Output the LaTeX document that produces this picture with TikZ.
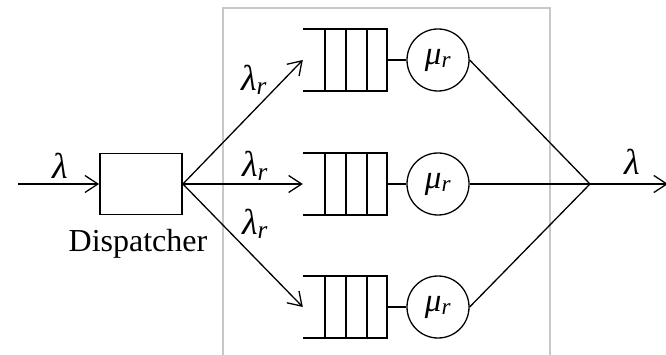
\documentclass[tikz,border=0pt]{standalone}
\usepackage{fontspec}
\setmainfont{Liberation Serif}
\newfontfamily\tnr{Liberation Serif}
\usetikzlibrary{arrows.meta,calc}
\tikzset{
  line/.style={line width=1.3pt, draw=black},
  arr/.style={line, -{Straight Barb[length=13pt,width=17pt,line width=1.3pt]}},
  lab/.style={font=\tnr\fontsize{36}{42}\selectfont, inner sep=0pt},
  qbox/.style={rectangle, minimum width=84pt, minimum height=61pt, draw=none, inner sep=0pt},
  srv/.style={circle, draw, line width=1.3pt, minimum size=62pt, inner sep=0pt, font=\tnr\fontsize{33}{38}\selectfont},
  disp/.style={rectangle, draw, line width=1.8pt, minimum width=82pt, minimum height=61pt, inner sep=0pt},
}
\newcommand{\lr}{\textit{λ}\textsubscript{\textit{r}}}
\newcommand{\mr}{\textit{μ}\textsubscript{\textit{r}}}
\newcommand{\drawqueue}[1]{%
  \draw[line width=1.8pt] (#1.north west) -- (#1.north east) -- (#1.south east) -- (#1.south west);
  \foreach \f in {0.26,0.51,0.76} {
    \draw[line width=1.8pt] ($(#1.north west)!\f!(#1.north east)$) -- ($(#1.south west)!\f!(#1.south east)$);
  }%
}
\begin{document}
\begin{tikzpicture}[x=1pt,y=-1pt]
\useasboundingbox (0,0) rectangle (666,355);
% gray frame
\draw[line width=1.5pt, draw=black!22] (223,360) -- (223,8) -- (550,8) -- (550,360);
% dispatcher
\node[disp] (d) at (141,184) {};
\node[inner sep=0pt, font=\tnr\fontsize{32}{38}\selectfont] (dt) at (138,244) {Dispatcher};
\coordinate (in) at (18,184);
\draw[arr] (in) -- (d.west);
\node[lab] (l0) at (60,166) {\textit{λ}};
% queues
\node[qbox] (q1) at (345,60) {};
\node[qbox] (q2) at (345,184) {};
\node[qbox] (q3) at (345,307) {};
\drawqueue{q1}
\drawqueue{q2}
\drawqueue{q3}
% servers
\node[srv] (s1) at (438,60) {\mr};
\node[srv] (s2) at (438,184) {\mr};
\node[srv] (s3) at (438,307) {\mr};
\draw[line] (q1.east) -- (s1.west);
\draw[line] (q2.east) -- (s2.west);
\draw[line] (q3.east) -- (s3.west);
% dispatch arrows
\draw[arr] (d.east) -- (q1.west);
\draw[arr] (d.east) -- (q2.west);
\draw[arr] (d.east) -- (q3.west);
\node[lab] (lr1) at (254,80) {\lr};
\node[lab] (lr2) at (255,166) {\lr};
\node[lab] (lr3) at (255,224) {\lr};
% join
\coordinate (j) at (590,184);
\coordinate (out) at (668,184);
\draw[line] (s1.east) -- (j);
\draw[line] (s2.east) -- (j);
\draw[line] (s3.east) -- (j);
\draw[arr] (j) -- (out);
\node[lab] (l1) at (632,162) {\textit{λ}};
\end{tikzpicture}
\end{document}
